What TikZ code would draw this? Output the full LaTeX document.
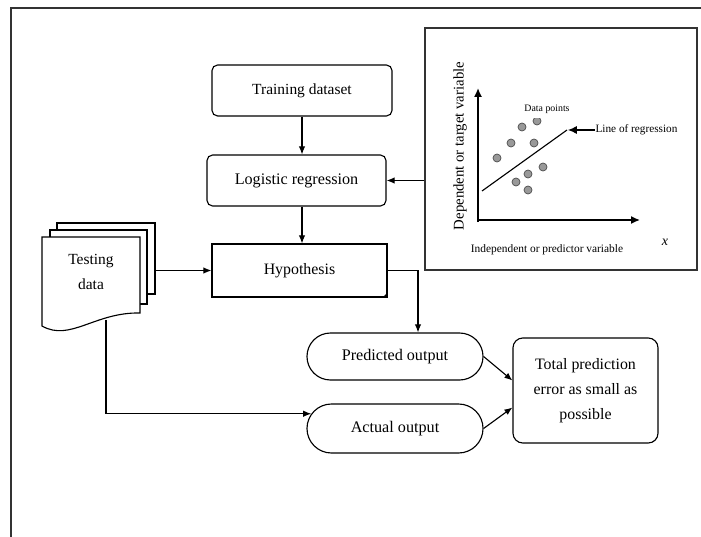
\documentclass[tikz,border=0pt]{standalone}
\usepackage{fontspec}
\setmainfont{Liberation Serif}
\usetikzlibrary{shapes.misc,calc,arrows.meta}

\begin{document}
\begin{tikzpicture}[x=0.025cm, y=-0.025cm, line width=0.8pt,
	arr/.style={-{Latex[length=2mm,width=1.6mm]}},
	box/.style={draw, rounded corners=4pt, inner sep=0pt, font=\fontsize{11.5}{13}\selectfont},
	term/.style={draw, rounded rectangle, inner sep=0pt, minimum width=4.4cm, font=\fontsize{11.5}{13}\selectfont},
	page/.style={draw, fill=white, inner sep=0pt},
	dot/.style={fill=gray!80, draw=black!70, line width=0.5pt}]
	\useasboundingbox (0,0) rectangle (701,537);

	% frame
	\draw[black!80, line width=1pt] (701,8) -- (11,8) -- (11,537);

	% plot of the regression
	\node[draw, black!80, line width=1pt, minimum width=6.8cm, minimum height=6.05cm] (plot) at (561,149) {};
	\coordinate (o) at (478,220);
	\draw[line width=1.2pt, -{Latex[length=2.2mm,width=2mm]}] (478,222) -- (478,88);
	\draw[line width=1.2pt, -{Latex[length=2.2mm,width=2mm]}] (o) -- (640,220);
	\foreach \px/\py in {522/127, 511/143, 534/143, 497/158, 543/167, 528/174, 516/182, 528/190, 537/121}
		\draw[dot] (\px,\py) circle (0.1cm);
	\node[fill=white, inner xsep=1pt, inner ysep=3pt, font=\fontsize{7}{8}\selectfont] (dpts) at (547,109) {Data points};
	\draw (482,191) -- (567,130);
	\node[anchor=west, inner sep=0pt, font=\fontsize{8}{9}\selectfont] (lreg) at (595,130) {Line of regression};
	\draw[-{Latex[length=2.2mm,width=2mm]}] (lreg.west) -- (568,130);
	\node[rotate=90, font=\fontsize{10.5}{12}\selectfont] (ylab) at (460,146) {Dependent or target variable};
	\node[font=\fontsize{8.1}{9}\selectfont] (xlab) at (547,250) {Independent or predictor variable};
	\node[font=\fontsize{10}{11}\selectfont] (xsym) at (665,242) {\textit{x}};

	% flow
	\node[box, font=\fontsize{11}{13}\selectfont, minimum width=4.5cm, minimum height=1.275cm] (train) at (302,90.5) {Training dataset};
	\node[box, minimum width=4.475cm, minimum height=1.275cm] (logist) at (296.5,180.5) {Logistic regression};
	\node[draw, inner sep=0pt, minimum width=4.375cm, minimum height=1.325cm, font=\fontsize{11.3}{13}\selectfont] (hypo) at (299.5,270.5) {Hypothesis};
	\fill (hypo.south east) -- ++(0,-5) -- ++(-5,5) -- cycle;

	\node[term, minimum height=1.175cm] (pred) at (395,356.5) {Predicted output};
	\node[term, minimum height=1.225cm] (actual) at (395,428.5) {Actual output};
	\node[box, rounded corners=7pt, align=center, minimum width=3.625cm, minimum height=2.625cm, font=\fontsize{11.3}{18}\selectfont] (total) at (585.5,390.5) {Total prediction\\error as small as\\possible};

	% stack of testing data
	\node[page, minimum width=2.45cm, minimum height=1.775cm] (tback3) at (106,258.5) {};
	\node[page, minimum width=2.425cm, minimum height=1.85cm] (tback2) at (98.5,267) {};
	\draw[fill=white] (42,237) -- (140,237) -- (140,313) .. controls (95,312) and (70,342) .. (42,326) -- cycle;
	\node[align=center, font=\fontsize{11}{18}\selectfont] (tdata) at (91,272) {Testing\\data};
	\coordinate (tbot) at (106,320);

	\draw[arr] (train) -- (train |- logist.north);
	\draw[arr] (logist.south -| train) -- (train |- hypo.north);
	\draw[arr] (logist.east -| plot.west) -- (logist.east);
	\draw[arr] (hypo.west -| tback3.east) -- (hypo.west);
	\draw[arr] (hypo.east) -| ($(pred.north)+(23,0)$);
	\draw[arr] (tbot) |- (actual.170);
	\draw[arr] (pred.east) -- ($(total.west)+(0,-10)$);
	\draw[arr] (actual.east) -- ($(total.west)+(0,17)$);
\end{tikzpicture}
\end{document}
